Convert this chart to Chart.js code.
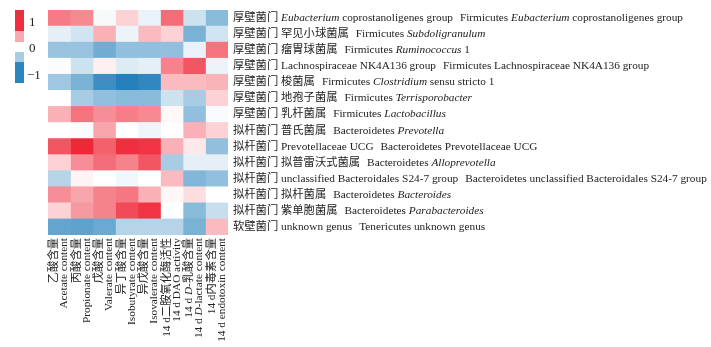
<!DOCTYPE html>
<html>
<head>
<meta charset="utf-8">
<script src="https://cdn.jsdelivr.net/npm/chart.js@4"></script>
<style>
  body { margin: 0; background: #fff; }
  #wrap { position: relative; width: 711px; height: 347px; }
  #cbar { position: absolute; left: 15px; top: 10px; width: 9px; }
  #cbar div { width: 9px; }
  .cbl { position: absolute; font: 13px "Liberation Serif", serif; color: #222; }
</style>
</head>
<body>
<div id="wrap">
  <canvas id="heat"></canvas>
  <div id="cbar"></div>
</div>
<script>
// ===== Data =====
// row names: Chinese part (phylum + genus) and English part; *...* = italic
const rowCn = [
  '厚壁菌门 *Eubacterium* coprostanoligenes group',
  '厚壁菌门 罕见小球菌属',
  '厚壁菌门 瘤胃球菌属',
  '厚壁菌门 Lachnospiraceae NK4A136 group',
  '厚壁菌门 梭菌属',
  '厚壁菌门 地孢子菌属',
  '厚壁菌门 乳杆菌属',
  '拟杆菌门 普氏菌属',
  '拟杆菌门 Prevotellaceae UCG',
  '拟杆菌门 拟普雷沃式菌属',
  '拟杆菌门 unclassified Bacteroidales S24-7 group',
  '拟杆菌门 拟杆菌属',
  '拟杆菌门 紫单胞菌属',
  '软壁菌门 unknown genus'
];
const rowEn = [
  'Firmicutes *Eubacterium* coprostanoligenes group',
  'Firmicutes *Subdoligranulum*',
  'Firmicutes *Ruminococcus* 1',
  'Firmicutes Lachnospiraceae NK4A136 group',
  'Firmicutes *Clostridium* sensu stricto 1',
  'Firmicutes *Terrisporobacter*',
  'Firmicutes *Lactobacillus*',
  'Bacteroidetes *Prevotella*',
  'Bacteroidetes Prevotellaceae UCG',
  'Bacteroidetes *Alloprevotella*',
  'Bacteroidetes unclassified Bacteroidales S24-7 group',
  'Bacteroidetes *Bacteroides*',
  'Bacteroidetes *Parabacteroides*',
  'Tenericutes unknown genus'
];

// column names (Chinese / English)
const colCn = ['乙酸含量', '丙酸含量', '戊酸含量', '异丁酸含量', '异戊酸含量', '14 d二胺氧化酶活性', '14 d *D*-乳酸含量', '14 d内毒素含量'];
const colEn = ['Acetate content', 'Propionate content', 'Valerate content', 'Isobutyrate content', 'Isovalerate content', '14 d DAO activity', '14 d *D*-lactate content', '14 d endotoxin content'];

// correlation per column, one value per row (top to bottom)
const acetate     = [ 0.58, -0.12, -0.45, -0.02, -0.42,  0.00,  0.35,  0.00,  0.75,  0.20, -0.32,  0.50,  0.20, -0.68];
const propionate  = [ 0.52, -0.20, -0.45, -0.22, -0.58, -0.38,  0.62, -0.02,  0.95,  0.50,  0.05,  0.40,  0.45, -0.70];
const valerate    = [-0.04,  0.35, -0.62,  0.07, -0.85, -0.48,  0.50,  0.40,  0.70,  0.65,  0.00,  0.55,  0.55, -0.65];
const isobutyrate = [ 0.20, -0.08, -0.48, -0.15, -0.95, -0.52,  0.57,  0.00,  0.92,  0.55, -0.06,  0.60,  0.80, -0.32];
const isovalerate = [-0.10,  0.30, -0.48, -0.12, -0.90, -0.52,  0.52, -0.07,  0.90,  0.75,  0.00,  0.35,  0.90, -0.32];
const dao         = [ 0.65,  0.20, -0.48,  0.55,  0.30, -0.22,  0.03,  0.01,  0.35, -0.38,  0.30,  0.04, -0.01, -0.32];
const dLactate    = [-0.22, -0.58, -0.10,  0.75,  0.30, -0.38, -0.48,  0.35,  0.10, -0.12, -0.55,  0.15, -0.52, -0.58];
const endotoxin   = [-0.52, -0.20,  0.62, -0.08,  0.33,  0.20, -0.03,  0.20, -0.48, -0.12, -0.48,  0.00, -0.25,  0.30];
const columns = [acetate, propionate, valerate, isobutyrate, isovalerate, dao, dLactate, endotoxin];

// colour bar ticks
const cbarTicks = ['1', '0', '\u22121'];

// ===== Colours =====
const RED = [238, 29, 46], BLUE = [26, 122, 184];
function colorFor(v) {
  const c = v >= 0 ? RED : BLUE, t = Math.min(1, Math.abs(v));
  const mix = i => Math.round(255 + (c[i] - 255) * t);
  return `rgb(${mix(0)},${mix(1)},${mix(2)})`;
}

// ===== Colour bar (legend) =====
const cbar = document.getElementById('cbar');
[[21, colorFor(0.92)], [11, colorFor(0.38)], [10, '#fff'], [10, colorFor(-0.38)], [21, colorFor(-0.92)]].forEach(([h, c]) => {
  const d = document.createElement('div');
  d.style.height = h + 'px'; d.style.background = c;
  cbar.appendChild(d);
});
[[29, 14], [29, 40], [27, 67]].forEach(([x, y], i) => {
  const s = document.createElement('div');
  s.className = 'cbl'; s.style.left = x + 'px'; s.style.top = y + 'px';
  s.textContent = cbarTicks[i];
  document.getElementById('wrap').appendChild(s);
});

// ===== Rich text helper (*italic*) =====
const FONT = '"Liberation Serif", "Noto Sans CJK SC", serif';
const FS = 11.3;
function richWidth(ctx, text, size) {
  let w = 0;
  text.split('*').forEach((p, i) => {
    ctx.font = (i % 2 ? 'italic ' : '') + size + 'px ' + FONT;
    w += ctx.measureText(p).width;
  });
  return w;
}
function drawRich(ctx, text, x, y, size) {
  let cx = x;
  text.split('*').forEach((p, i) => {
    ctx.font = (i % 2 ? 'italic ' : '') + size + 'px ' + FONT;
    ctx.fillText(p, cx, y);
    cx += ctx.measureText(p).width;
  });
  return cx;
}

const labelPlugin = {
  id: 'labels',
  afterDraw(chart) {
    const ctx = chart.ctx, xs = chart.scales.x, ys = chart.scales.y, area = chart.chartArea;
    ctx.save();
    ctx.fillStyle = '#222';
    ctx.textBaseline = 'middle';
    // row labels on the right
    rowCn.forEach((cn, i) => {
      const y = ys.getPixelForValue(i);
      const end = drawRich(ctx, cn, area.right + 5, y, FS);
      drawRich(ctx, rowEn[i], end + 7, y, FS);
    });
    // column labels, rotated, two per column
    colCn.forEach((cn, i) => {
      [[cn, i + 0.28], [colEn[i], i + 0.72]].forEach(([t, v]) => {
        const x = xs.getPixelForValue(v);
        ctx.save();
        ctx.translate(x, area.bottom + 3);
        ctx.rotate(-Math.PI / 2);
        drawRich(ctx, t, -richWidth(ctx, t, FS), 0, FS);
        ctx.restore();
      });
    });
    ctx.restore();
  }
};

// ===== Chart =====
const ctx = document.getElementById('heat').getContext('2d');
new Chart(ctx, {
  type: 'bar',
  data: {
    labels: rowCn.map((_, i) => i),
    datasets: columns.map(col => ({
      data: col.map(() => 1),
      backgroundColor: col.map(colorFor),
      borderWidth: 0,
      categoryPercentage: 1,
      barPercentage: 1
    }))
  },
  options: {
    indexAxis: 'y',
    animation: false, responsive: true, maintainAspectRatio: false,
    layout: { padding: { left: 48, top: 10, right: 483, bottom: 112 } },
    plugins: { legend: { display: false }, tooltip: { enabled: false } },
    scales: {
      x: { stacked: true, min: 0, max: columns.length, display: false },
      y: { stacked: true, display: false }
    }
  },
  plugins: [labelPlugin]
});
</script>
</body>
</html>
